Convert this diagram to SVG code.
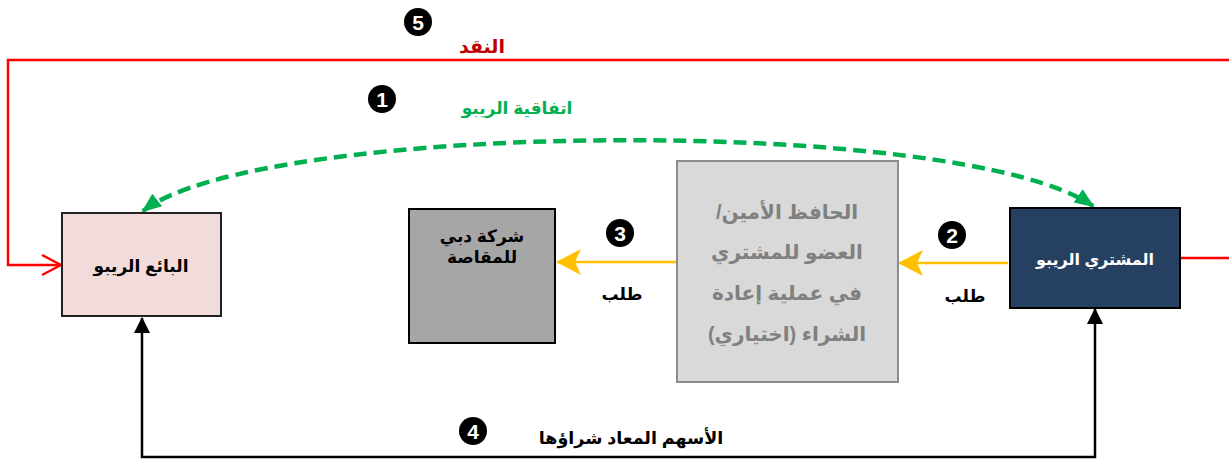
<svg xmlns="http://www.w3.org/2000/svg" width="1229" height="463" viewBox="0 0 1229 463">
<style>
text{font-family:"Liberation Sans","DejaVu Sans",sans-serif;font-weight:bold;direction:rtl;text-anchor:middle}
.num{fill:#000}
.numt{fill:#fff;font-size:21px;direction:ltr}
.box{stroke-width:2}
</style>
<defs>
<marker id="yel" markerWidth="26" markerHeight="26" viewBox="0 0 26 26" refX="24" refY="13" orient="auto" markerUnits="userSpaceOnUse">
<path d="M25,13 L0,0 L6,13 L0,26 Z" fill="#FFC000"/>
</marker>
<marker id="grn" markerWidth="20" markerHeight="20" viewBox="0 0 20 20" refX="18" refY="10" orient="auto" markerUnits="userSpaceOnUse">
<path d="M0,2 L20,10 L0,18 Z" fill="#00B050"/>
</marker>
<marker id="grs" markerWidth="20" markerHeight="20" viewBox="0 0 20 20" refX="18" refY="10" orient="auto-start-reverse" markerUnits="userSpaceOnUse">
<path d="M0,2 L20,10 L0,18 Z" fill="#00B050"/>
</marker>
<marker id="blk" markerWidth="16" markerHeight="16" viewBox="0 0 16 16" refX="15" refY="8" orient="auto-start-reverse" markerUnits="userSpaceOnUse">
<path d="M0,0 L16,8 L0,16 Z" fill="#000"/>
</marker>
<marker id="red" markerWidth="22" markerHeight="24" viewBox="0 0 22 24" refX="20" refY="12" orient="auto" markerUnits="userSpaceOnUse">
<path d="M1,2 L20,12 L1,22" fill="none" stroke="#FF0000" stroke-width="2.5"/>
</marker>
</defs>

<g id="connectors">
<path d="M1229,60 L8,60 L8,265 L61,265" fill="none" stroke="#FF0000" stroke-width="2.5" marker-end="url(#red)"/>
<path d="M1181,258 L1229,258" fill="none" stroke="#FF0000" stroke-width="2.5"/>
<path d="M143,211 C260,120 960,115 1093,206" fill="none" stroke="#00B050" stroke-width="4.5" stroke-dasharray="13,7" marker-start="url(#grs)" marker-end="url(#grn)"/>
<path d="M1008,263 L899,263" fill="none" stroke="#FFC000" stroke-width="2.5" marker-end="url(#yel)"/>
<path d="M676,262 L557,262" fill="none" stroke="#FFC000" stroke-width="2.5" marker-end="url(#yel)"/>
<path d="M142,318 L142,457 L1095,457 L1095,309" fill="none" stroke="#000" stroke-width="2.5" marker-start="url(#blk)" marker-end="url(#blk)"/>
</g>

<g id="seller">
<rect class="box" x="62" y="213" width="159" height="103" fill="#F2DCDB" stroke="#222"/>
<text x="141" y="272" font-size="17" fill="#000">البائع الريبو</text>
</g>

<g id="dubai">
<rect class="box" x="409" y="209" width="146" height="134" fill="#A6A6A6" stroke="#000"/>
<text x="482" y="242" font-size="17" fill="#000">شركة دبي</text>
<text x="482" y="263" font-size="17" fill="#000">للمقاصة</text>
</g>

<g id="custodian">
<rect class="box" x="677" y="161" width="221" height="221" fill="#D9D9D9" stroke="#8C8C8C"/>
<text x="787" y="219" font-size="20" fill="#808080">الحافظ الأمين/</text>
<text x="787" y="259" font-size="20" fill="#808080">العضو للمشتري</text>
<text x="787" y="300" font-size="20" fill="#808080">في عملية إعادة</text>
<text x="787" y="341" font-size="20" fill="#808080">الشراء (اختياري)</text>
</g>

<g id="buyer">
<rect class="box" x="1010" y="208" width="170" height="100" fill="#264061" stroke="#000"/>
<text x="1095" y="265" font-size="16" fill="#FFFFFF">المشتري الريبو</text>
</g>

<g id="labels">
<text x="482" y="53" font-size="19" fill="#C00000">النقد</text>
<text x="517" y="114" font-size="17" fill="#00B050">اتفاقية الريبو</text>
<text x="622" y="300" font-size="17" fill="#000">طلب</text>
<text x="965" y="302" font-size="17" fill="#000">طلب</text>
<text x="631" y="444" font-size="17.5" fill="#000">الأسهم المعاد شراؤها</text>
</g>

<g id="numbers">
<circle class="num" cx="418" cy="22" r="14"/><text class="numt" x="418" y="29.5">5</text>
<circle class="num" cx="382" cy="99" r="14"/><text class="numt" x="382" y="106.5">1</text>
<circle class="num" cx="620" cy="233" r="14"/><text class="numt" x="620" y="240.5">3</text>
<circle class="num" cx="952" cy="235" r="14"/><text class="numt" x="952" y="242.5">2</text>
<circle class="num" cx="473" cy="431" r="14"/><text class="numt" x="473" y="438.5">4</text>
</g>
</svg>
